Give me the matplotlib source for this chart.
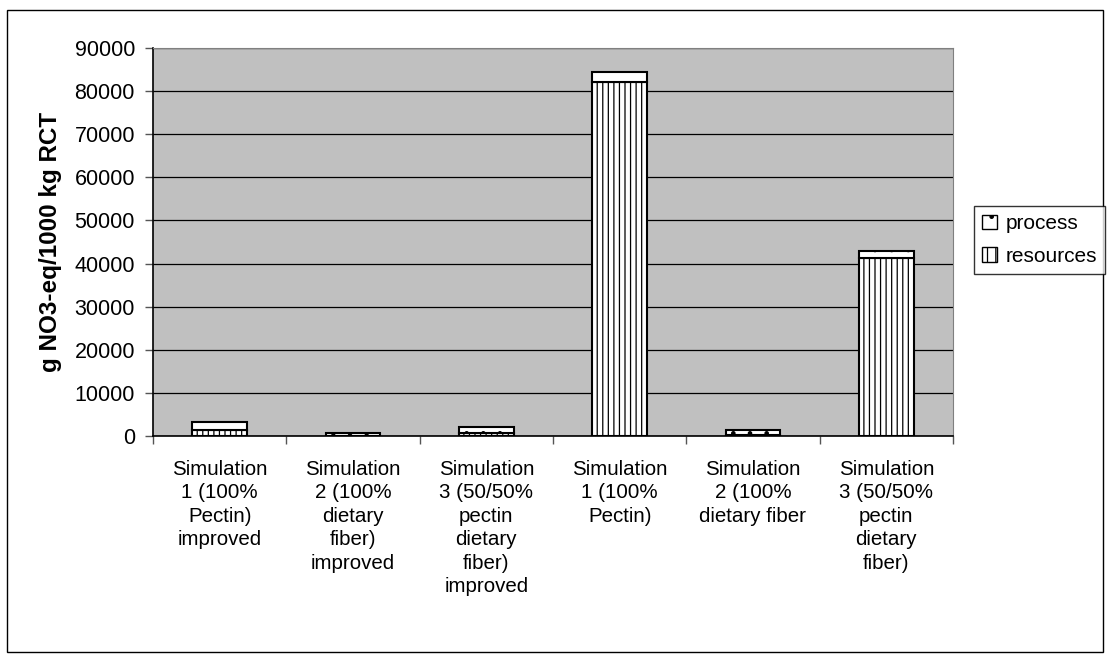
import matplotlib
matplotlib.use("Agg")
import matplotlib.pyplot as plt
from matplotlib.patches import Rectangle, Patch
import numpy as np

# Scenario labels and nitrate-equivalent contributions
categories = [
    "Simulation\n1 (100%\nPectin)\nimproved",
    "Simulation\n2 (100%\ndietary\nfiber)\nimproved",
    "Simulation\n3 (50/50%\npectin\ndietary\nfiber)\nimproved",
    "Simulation\n1 (100%\nPectin)",
    "Simulation\n2 (100%\ndietary fiber",
    "Simulation\n3 (50/50%\npectin\ndietary\nfiber)",
]
resources = [1400, 100, 800, 82000, 300, 41200]
process = [1850, 700, 1300, 2500, 1000, 1800]
y_ticks = [0, 10000, 20000, 30000, 40000, 50000, 60000, 70000, 80000, 90000]

plt.rcParams["font.family"] = ["Liberation Sans", "DejaVu Sans"]
plt.rcParams["hatch.linewidth"] = 0.9
plt.rcParams["hatch.color"] = "black"

W, H = 1112, 662
fig = plt.figure(figsize=(W / 100, H / 100), dpi=100)
ax = fig.add_axes([153 / W, 1 - 436 / H, 800 / W, 388 / H])
ax.set_facecolor("#C0C0C0")

x = np.arange(len(categories))
bw = 0.41
ax.bar(x, resources, bw, color="white", edgecolor="black", linewidth=1.5,
       hatch="|||", zorder=3)
ax.bar(x, process, bw, bottom=resources, color="white", edgecolor="black",
       linewidth=1.5, hatch=".", zorder=3)

ax.set_xlim(-0.5, len(categories) - 0.5)
ax.set_ylim(0, 90000)
ax.set_yticks(y_ticks)
ax.set_yticklabels([str(v) for v in y_ticks], fontsize=15.5)
ax.yaxis.grid(True, color="black", linewidth=0.9, zorder=0)
ax.set_axisbelow(True)

ax.set_xticks(x)
ax.set_xticklabels(categories, fontsize=14.8, linespacing=1.3, va="top")
ax.tick_params(axis="x", which="major", length=0, pad=17)
ax.set_xticks(np.arange(-0.5, len(categories), 1.0), minor=True)
ax.tick_params(axis="x", which="minor", length=6, width=1, color="#555555")
ax.tick_params(axis="y", length=6, width=1, pad=7, color="#555555")

for side in ("top", "right"):
    ax.spines[side].set_color("#808080")
for side in ("left", "bottom"):
    ax.spines[side].set_color("black")
    ax.spines[side].set_linewidth(1.2)

ax.set_ylabel("g NO3-eq/1000 kg RCT", fontsize=17.5, fontweight="bold", labelpad=9)

handles = [
    Patch(facecolor="white", edgecolor="black", hatch=".", linewidth=1),
    Patch(facecolor="white", edgecolor="black", hatch="||", linewidth=1),
]
leg = fig.legend(handles, ["process", "resources"], loc="center left",
                 bbox_to_anchor=(974 / W, 1 - 240 / H), fontsize=15,
                 frameon=True, fancybox=False, edgecolor="black",
                 handlelength=0.7, handleheight=0.7, handletextpad=0.4,
                 borderpad=0.4, labelspacing=0.65, borderaxespad=0)
leg.get_frame().set_linewidth(1)

fig.patches.append(Rectangle((7 / W, 1 - 652 / H), 1096 / W, 642 / H,
                             transform=fig.transFigure, fill=False,
                             edgecolor="black", linewidth=1))

fig.savefig("out.png", dpi=100)
